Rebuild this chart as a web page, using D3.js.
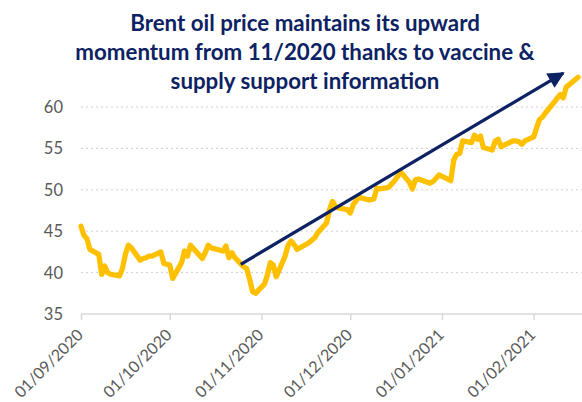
<!DOCTYPE html>
<html>
<head>
<meta charset="utf-8">
<script src="https://cdn.jsdelivr.net/npm/d3@7"></script>
<style>
  body { margin: 0; background: #fff; }
  svg { display: block; }
</style>
</head>
<body>
<script>
// Brent prices, trading days Sep 2020 - Feb 2021
const dates = [
  "2020-09-01","2020-09-02","2020-09-03","2020-09-04","2020-09-07","2020-09-08","2020-09-09","2020-09-10","2020-09-11",
  "2020-09-14","2020-09-15","2020-09-16","2020-09-17","2020-09-18","2020-09-21","2020-09-22","2020-09-23","2020-09-24",
  "2020-09-25","2020-09-28","2020-09-29","2020-09-30","2020-10-01","2020-10-02","2020-10-05","2020-10-06","2020-10-07",
  "2020-10-08","2020-10-09","2020-10-12","2020-10-13","2020-10-14","2020-10-15","2020-10-16","2020-10-19","2020-10-20",
  "2020-10-21","2020-10-22","2020-10-23","2020-10-26","2020-10-27","2020-10-28","2020-10-29","2020-10-30","2020-11-02",
  "2020-11-03","2020-11-04","2020-11-05","2020-11-06","2020-11-09","2020-11-10","2020-11-11","2020-11-12","2020-11-13",
  "2020-11-16","2020-11-17","2020-11-18","2020-11-19","2020-11-20","2020-11-23","2020-11-24","2020-11-25","2020-11-26",
  "2020-11-27","2020-11-30","2020-12-01","2020-12-02","2020-12-03","2020-12-04","2020-12-07","2020-12-08","2020-12-09",
  "2020-12-10","2020-12-11","2020-12-14","2020-12-15","2020-12-16","2020-12-17","2020-12-18","2020-12-21","2020-12-22",
  "2020-12-23","2020-12-24","2020-12-28","2020-12-29","2020-12-30","2020-12-31","2021-01-04","2021-01-05","2021-01-06",
  "2021-01-07","2021-01-08","2021-01-11","2021-01-12","2021-01-13","2021-01-14","2021-01-15","2021-01-18","2021-01-19",
  "2021-01-20","2021-01-21","2021-01-22","2021-01-25","2021-01-26","2021-01-27","2021-01-28","2021-01-29","2021-02-01",
  "2021-02-02","2021-02-03","2021-02-04","2021-02-05","2021-02-08","2021-02-09","2021-02-10","2021-02-11","2021-02-12",
  "2021-02-15","2021-02-16"
];
const prices = [
  45.6, 44.5, 44.1, 42.8, 42.2, 39.8, 40.8, 40.0, 39.8,
  39.6, 40.5, 42.2, 43.3, 43.0, 41.5, 41.7, 41.8, 42.0,
  42.0, 42.5, 41.1, 41.0, 40.9, 39.3, 41.2, 42.6, 42.0,
  43.3, 42.9, 41.7, 42.4, 43.3, 43.0, 42.9, 42.6, 43.2,
  41.8, 42.4, 41.8, 40.7, 40.5, 39.2, 37.7, 37.5, 38.6,
  39.7, 41.2, 40.9, 39.5, 42.0, 43.3, 43.8, 43.4, 42.8,
  43.4, 43.6, 43.9, 44.2, 44.8, 46.0, 47.6, 48.6, 48.0,
  47.8, 47.6, 47.2, 48.2, 48.7, 49.1, 48.8, 48.8, 48.9,
  50.2, 50.1, 50.3, 50.7, 51.1, 51.6, 52.2, 50.9, 50.1,
  51.2, 51.3, 50.8, 51.0, 51.4, 51.8, 51.1, 53.6, 54.3,
  54.4, 55.9, 55.7, 56.6, 56.1, 56.5, 55.1, 54.8, 55.9,
  56.1, 55.2, 55.4, 55.9, 55.9, 55.8, 55.5, 55.9, 56.4,
  57.5, 58.5, 58.8, 59.3, 60.6, 61.1, 61.5, 61.1, 62.4,
  63.3, 63.6
];
const monthTicks = ["2020-09-01","2020-10-01","2020-11-01","2020-12-01","2021-01-01","2021-02-01"];
const yTicks = [35, 40, 45, 50, 55, 60];
const titleLines = [
  "Brent oil price maintains its upward",
  "momentum from 11/2020 thanks to vaccine &",
  "supply support information"
];
// trend arrow: [date, price]
const arrowFrom = ["2020-10-25", 41.0];
const arrowTo = ["2021-02-11", 64.1];

const W = 582, H = 402;
const parse = d3.utcParse("%Y-%m-%d");
const fmt = d3.utcFormat("%d/%m/%Y");
const data = dates.map((d, i) => ({date: parse(d), value: prices[i]}));

const x = d3.scaleUtc()
  .domain([parse("2020-09-01"), parse("2021-02-17")])
  .range([81, 581]);
const y = d3.scaleLinear()
  .domain([35, 65])
  .range([314, 65.6]);

const svg = d3.select("body").append("svg")
  .attr("width", W)
  .attr("height", H);

// gridlines
svg.append("g")
  .selectAll("line")
  .data(yTicks.slice(1))
  .join("line")
  .attr("x1", 81).attr("x2", W)
  .attr("y1", d => y(d)).attr("y2", d => y(d))
  .attr("stroke", "#d0d0d0")
  .attr("stroke-width", 1)
  .attr("stroke-dasharray", "2,3");

// x axis line + ticks
const xAxis = svg.append("g")
  .attr("transform", "translate(0," + y(35) + ")")
  .call(d3.axisBottom(x).tickValues(monthTicks.map(parse)).tickSize(6).tickFormat(""));
xAxis.select(".domain").attr("stroke", "#d9d9d9").attr("stroke-width", 1.5)
  .attr("d", "M81,0H" + W);
xAxis.selectAll(".tick line").attr("stroke", "#d9d9d9").attr("stroke-width", 1.5);

// x tick labels, rotated
svg.append("g")
  .selectAll("text")
  .data(monthTicks.map(parse))
  .join("text")
  .attr("transform", d => "translate(" + (x(d) + 3) + "," + 336 + ") rotate(-45)")
  .attr("text-anchor", "end")
  .attr("font-family", "Lato, 'Open Sans', sans-serif")
  .attr("font-size", "16px")
  .attr("fill", "#595959")
  .text(d => fmt(d));

// y tick labels
svg.append("g")
  .selectAll("text")
  .data(yTicks)
  .join("text")
  .attr("x", 63)
  .attr("y", d => y(d))
  .attr("dy", "0.36em")
  .attr("text-anchor", "end")
  .attr("font-family", "Lato, 'Open Sans', sans-serif")
  .attr("font-size", "16.5px")
  .attr("fill", "#595959")
  .text(d => d);

// price line
const line = d3.line()
  .x(d => x(d.date))
  .y(d => y(d.value));

svg.append("path")
  .datum(data)
  .attr("fill", "none")
  .attr("stroke", "#ffc000")
  .attr("stroke-width", 5.3)
  .attr("stroke-linejoin", "round")
  .attr("stroke-linecap", "round")
  .attr("d", line);

// arrow
svg.append("defs").append("marker")
  .attr("id", "head")
  .attr("viewBox", "0 0 10 10")
  .attr("refX", 9).attr("refY", 5)
  .attr("markerWidth", 6).attr("markerHeight", 5.2)
  .attr("markerUnits", "strokeWidth")
  .attr("orient", "auto")
  .append("path")
  .attr("d", "M0,0L10,5L0,10z")
  .attr("fill", "#0d2262");

svg.append("line")
  .attr("x1", x(parse(arrowFrom[0]))).attr("y1", y(arrowFrom[1]))
  .attr("x2", x(parse(arrowTo[0]))).attr("y2", y(arrowTo[1]))
  .attr("stroke", "#0d2262")
  .attr("stroke-width", 3.2)
  .attr("marker-end", "url(#head)");

// title
svg.append("text")
  .attr("x", 305)
  .attr("y", 31)
  .attr("text-anchor", "middle")
  .attr("font-family", "Lato, 'Open Sans', sans-serif")
  .attr("font-weight", "bold")
  .attr("font-size", "22.3px")
  .attr("fill", "#0d2262")
  .selectAll("tspan")
  .data(titleLines)
  .join("tspan")
  .attr("x", 305)
  .attr("dy", (d, i) => i === 0 ? 0 : 29)
  .text(d => d);
</script>
</body>
</html>
